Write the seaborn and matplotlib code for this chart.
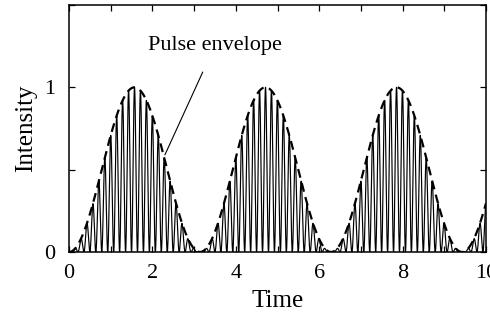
import numpy as np
import pandas as pd
import matplotlib
matplotlib.use("Agg")
import matplotlib.pyplot as plt
import seaborn as sns
from matplotlib.ticker import MultipleLocator

# --- chart values ---
t_range = [0.0, 10.0]          # time axis extent
n_samples = 6000
envelope_freq = 1.0            # envelope = sin^2(envelope_freq * t)
carrier_freq = 22.0            # fast oscillation cos^2(carrier_freq * t)
x_ticks = [0, 2, 4, 6, 8, 10]
x_tick_labels = ["0", "2", "4", "6", "8", "10"]
y_ticks = [0, 1]
y_tick_labels = ["0", "1"]
annotation_text = "Pulse envelope"
x_label = "Time"
y_label = "Intensity"

t = np.linspace(t_range[0], t_range[1], n_samples)
envelope = np.sin(envelope_freq * t) ** 2
intensity = envelope * np.cos(carrier_freq * t) ** 2
df = pd.DataFrame({"Time": t, "Intensity": intensity, "Envelope": envelope})

sns.set_theme(style="ticks")
plt.rcParams["font.family"] = ["Liberation Serif", "DejaVu Serif"]
plt.rcParams["text.color"] = "black"
plt.rcParams["axes.labelcolor"] = "black"
plt.rcParams["xtick.color"] = "black"
plt.rcParams["ytick.color"] = "black"

fig = plt.figure(figsize=(4.9, 3.2), dpi=100)
ax = fig.add_axes([69 / 490, 68 / 320, (486 - 69) / 490, (252 - 5) / 320])

sns.lineplot(data=df, x="Time", y="Intensity", ax=ax, color="black",
             linewidth=0.85, estimator=None, sort=False)
sns.lineplot(data=df, x="Time", y="Envelope", ax=ax, color="black",
             linewidth=1.6, estimator=None, sort=False)
ax.lines[-1].set_linestyle((0, (4, 2.5)))

ax.set_xlim(0, 10)
ax.set_ylim(0, 1.5)
ax.set_xticks(x_ticks)
ax.set_xticklabels(x_tick_labels)
ax.set_yticks(y_ticks)
ax.set_yticklabels(y_tick_labels)
ax.xaxis.set_minor_locator(MultipleLocator(1))
ax.yaxis.set_minor_locator(MultipleLocator(0.5))
ax.tick_params(which="both", direction="in", top=True, right=True,
               length=4, width=0.9, labelsize=16, colors="black")
ax.tick_params(axis="x", pad=9)
ax.tick_params(axis="y", pad=10)
for s in ax.spines.values():
    s.set_linewidth(1.1)
    s.set_color("black")

ax.set_xlabel(x_label, fontsize=18, labelpad=5, color="black")
ax.set_ylabel(y_label, fontsize=18, labelpad=5, color="black")

ax.annotate(annotation_text, xy=(2.30, 0.59), xytext=(3.5, 1.255),
            fontsize=16, ha="center", va="center", color="black",
            arrowprops=dict(arrowstyle="-", color="black", lw=0.8,
                            shrinkA=11, shrinkB=0))

fig.savefig("out.png", dpi=100)
